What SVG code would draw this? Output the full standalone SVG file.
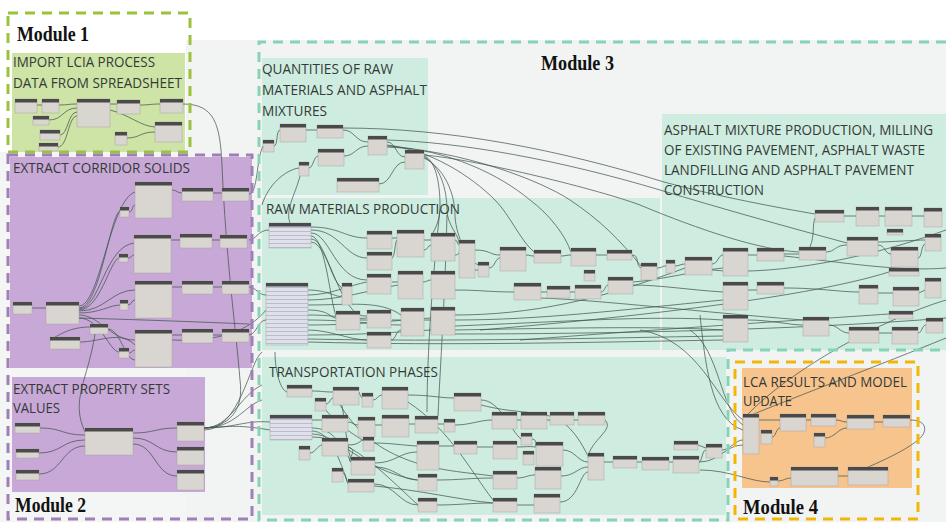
<svg xmlns="http://www.w3.org/2000/svg" width="946" height="522" viewBox="0 0 946 522">
<style>
.c{fill:none;stroke:#3f524c;stroke-width:.9;opacity:.8}
.nb{fill:#d9d6d2;stroke:#a8a5a1;stroke-width:.5}
.nh{fill:#4a4a4a}
.tb{fill:url(#tbl);stroke:#a8a5a1;stroke-width:.5}
.t{font-family:"Open Sans","Noto Sans",sans-serif;font-size:15px;fill:#333a37}
.m{font-family:"Liberation Serif",serif;font-size:21px;font-weight:bold;fill:#111}
.d{fill:none;stroke-width:3;stroke-dasharray:10 7}
</style>
<defs>
<pattern id="tbl" width="6" height="4" patternUnits="userSpaceOnUse"><rect width="6" height="4" fill="#dfe0e8"/><line x1="0" y1="3.5" x2="6" y2="3.5" stroke="#a9aecb" stroke-width=".7"/></pattern>
</defs>
<rect width="946" height="522" fill="#ffffff"/>
<rect x="186" y="40" width="760" height="482" fill="#f2f4f4"/>
<rect x="0" y="152" width="186" height="370" fill="#f4f5f5"/>
<!-- group fills -->
<g id="groups">
<rect x="12" y="53" width="173" height="99" fill="#cee3a6"/>
<rect x="10" y="157" width="242" height="211" fill="#c8a8d6"/>
<rect x="12" y="377" width="193" height="115" fill="#c8a8d6"/>
<rect x="262" y="58" width="166" height="137" fill="#cfece0"/>
<rect x="262" y="198" width="398" height="152" fill="#cfece0"/>
<rect x="662" y="114" width="284" height="236" fill="#cfece0"/>
<rect x="262" y="357" width="464" height="158" fill="#cfece0"/>
<rect x="742" y="368" width="170" height="120" fill="#f8c48e"/>
</g>
<g id="connectors">
<path class="c" d="M37,105 L42,105 M59,105 C68,105 68,104 77,104 M49,120 C63,120 63,108 77,108 M60,135 C68,135 68,112 77,112 M58,147 C68,147 68,116 77,116 M110,104 L117,104 M140,105 C150,105 150,104 160,104 M110,110 C130,115 140,126 155,127 M127,138 C140,138 140,132 155,132"/>
<path class="c" d="M183,104 C215,104 220,125 222,165 C226,260 236,330 240,380 C244,410 230,426 204,428"/>
<path class="c" d="M32,308 L46,308 M79,306 C100,306 110,200 135,192 M79,308 C100,308 110,215 120,211 M79,309 C100,309 105,245 135,243 M79,310 C100,310 110,260 119,258 M79,311 C105,311 112,290 135,290 M79,313 C100,313 110,305 120,305 M79,315 C100,315 110,340 135,340 M79,318 C100,318 110,352 119,352 M129,212 C133,212 132,205 135,205 M128,258 C132,258 131,255 134,255 M128,305 C132,305 131,300 135,300 M129,353 C132,353 132,350 135,350"/>
<path class="c" d="M172,190 C177,190 177,193 182,193 M213,193 L222,193 M171,240 L180,240 M212,240 L220,240 M172,287 L182,287 M213,287 L222,287 M172,335 L182,335 M213,335 L222,335 M80,342 C100,342 120,330 135,345 M108,329 C120,329 125,360 135,360 M90,327 C70,327 60,335 55,337 M95,334 C88,380 70,400 85,432 M79,318 C150,320 200,322 249,324 M172,340 C220,342 250,330 266,310"/>
<path class="c" d="M249,194 C258,194 256,160 263,146 M249,240 C256,240 258,230 269,230 M249,287 C256,287 258,295 266,295 M249,335 C256,335 258,320 266,320"/>
<path class="c" d="M40,428 C62,428 62,435 85,435 M39,453 C62,453 62,440 85,440 M39,474 C62,474 62,446 85,446 M133,433 C155,433 155,428 177,428 M133,438 C155,438 155,452 177,452 M133,444 C155,444 155,476 177,476 M204,428 C230,428 240,395 262,385 M204,428 C235,428 245,405 262,400 M204,428 C235,428 245,420 270,422 M204,428 C232,426 240,425 270,430 M204,430 C240,430 250,360 262,352"/>
<path class="c" d="M274,146 C278,146 276,130 280,130 M306,130 L317,130 M343,130 C355,130 355,142 368,142 M309,168 C313,168 314,156 318,156 M344,156 C355,156 356,146 368,146 M387,142 C396,142 396,157 405,157 M379,184 C392,184 392,162 405,162 M299,168 C285,170 268,185 262,205 M300,176 C295,195 285,210 290,223"/>
<path class="c" d="M343,128 C450,128 560,150 664,182 C720,197 780,208 815,214 M387,140 C460,142 560,160 660,190 C720,208 780,225 847,243 M387,145 C430,150 470,175 495,200 C510,215 520,240 534,252 M387,146 C450,150 500,175 530,200 C550,215 565,235 571,252 M387,147 C460,150 540,180 570,200 C600,220 620,240 641,266 M424,155 C480,160 600,190 640,205 C700,230 760,250 799,252 M424,156 C436,160 440,185 440,205 C440,220 436,228 431,236 M424,157 C440,165 447,190 447,210 C447,225 459,235 459,243 M424,158 C445,168 455,195 455,215 C455,230 465,258 478,265 M447,215 C445,300 440,370 438,416 M440,210 C430,300 427,370 427,412"/>
<path class="c" d="M311,227 C340,227 345,238 367,238 M311,230 C340,230 345,258 367,258 M311,233 C330,233 335,280 367,280 M311,236 C325,236 330,300 336,316 M311,239 C325,239 330,280 342,288 M311,242 C330,242 340,320 367,316 M308,290 C330,290 340,300 342,295 M308,295 C330,295 350,285 367,282 M308,300 C340,300 370,290 398,285 M308,305 C350,305 380,300 401,315 M308,310 C330,310 330,318 336,318 M308,315 C340,315 350,320 367,318 M308,320 C350,320 380,325 401,325 M308,325 C360,325 400,320 431,318 M308,330 C330,330 350,340 367,340 M308,335 C360,335 400,332 431,330 M308,339 C450,342 600,338 723,336 M308,342 C450,346 600,342 723,340"/>
<path class="c" d="M392,238 L397,238 M392,258 C395,258 395,240 397,240 M424,240 L431,240 M424,250 C428,250 428,245 431,245 M455,240 C458,240 457,245 459,245 M455,255 C460,255 460,250 459,250 M475,250 C490,250 490,255 500,255 M475,270 L478,270 M489,268 C495,268 495,258 500,258 M526,255 C530,255 530,256 534,256 M561,256 C566,256 566,255 571,255 M596,255 L607,255 M632,255 C640,255 635,265 641,268 M657,268 C662,268 662,266 666,266 M675,266 C680,266 680,264 685,264 M712,264 C718,264 718,255 723,255 M748,255 L757,255 M784,254 L799,254 M826,252 C835,252 835,245 847,245 M810,247 C815,235 812,225 815,218 M844,216 L856,216 M879,216 L885,216 M912,216 L924,216 M878,245 C885,245 885,254 891,254 M878,242 C890,242 915,240 925,240 M918,258 C922,258 921,245 925,244"/>
<path class="c" d="M392,282 L398,282 M423,282 C427,282 427,280 431,280 M392,320 L401,320 M360,320 L367,320 M391,340 C396,340 396,330 401,330 M424,320 L431,320 M455,315 C530,315 600,300 685,268 M455,320 C540,320 620,310 723,300 M455,326 C560,322 650,315 723,320 M455,330 C560,328 660,326 723,330 M455,334 C600,334 800,330 946,318 M455,290 C480,290 490,292 514,292 M541,292 L547,292 M570,292 L575,292 M601,292 C605,292 605,285 608,285 M633,285 C660,285 690,290 723,292 M633,282 C660,280 700,270 723,268 M748,290 L757,290 M784,288 C820,288 840,292 859,292 M878,293 L893,293 M919,293 L925,290 M748,320 C770,320 790,325 803,325 M829,325 C838,325 840,333 849,333 M879,333 L892,333 M918,333 C922,333 922,325 926,325 M480,330 C600,320 800,300 889,272 M520,340 C650,330 800,320 889,314 M540,298 C600,300 700,312 803,320 M712,270 C760,275 850,265 946,230 M784,256 C840,262 900,272 946,268"/>
<path class="c" d="M744,418 C800,395 880,365 946,338 M946,300 C880,320 790,370 746,416 M640,330 C700,340 715,400 743,420 M690,330 C720,350 720,410 743,425 M700,315 C705,360 710,420 743,430 M699,462 C720,462 725,445 743,445 M722,450 C730,450 735,440 743,440"/>
<path class="c" d="M759,420 L780,420 M772,437 C776,437 776,428 780,428 M806,420 L811,420 M836,420 C841,420 842,422 847,422 M825,438 C835,438 838,428 847,428 M874,422 L883,422 M910,420 C928,420 928,432 918,440 C900,455 860,470 848,476 M778,481 C784,481 785,478 791,478 M838,476 L848,476 M700,470 C730,470 750,482 770,482"/>
<path class="c" d="M275,352 C275,370 280,390 287,392 M312,391 C322,391 323,392 333,392 M326,404 C330,404 330,398 333,398 M359,392 C360,395 361,397 362,398 M373,400 C377,400 378,395 382,395 M408,395 C430,395 440,398 454,398 M312,420 L322,420 M312,428 C330,428 340,440 351,462 M312,431 C330,431 340,460 348,484 M312,434 C340,434 360,470 417,480 M312,437 C350,437 380,470 418,505 M310,453 C315,453 318,445 322,445 M348,422 C353,422 353,425 358,425 M375,425 L382,425 M409,424 L415,424 M438,424 L444,424 M455,425 C470,425 480,420 492,420 M517,420 L521,420 M547,420 L550,420 M574,420 L578,420 M605,420 C615,430 590,440 588,458"/>
<path class="c" d="M348,445 C360,445 360,440 363,440 M374,443 C390,443 400,445 417,446 M348,447 C360,450 345,460 351,462 M375,463 C395,463 400,452 417,452 M375,467 C395,467 400,480 418,480 M343,473 C346,473 346,482 348,482 M374,484 C395,484 400,505 418,505 M374,486 C420,490 460,500 493,503 M339,395 C345,410 345,440 351,460 M322,404 C330,420 360,440 374,446 M437,480 C460,480 470,478 493,478 M437,505 C460,505 470,503 493,503 M439,446 L454,446 M477,447 L493,447 M517,447 C525,447 528,446 536,447 M517,478 C525,478 528,475 535,475 M517,505 L534,505 M563,450 C575,450 578,462 588,462 M561,476 C575,476 578,467 588,467 M560,502 C578,502 580,472 588,472 M604,462 L613,462 M637,462 L642,462 M669,462 L673,462 M699,462 C702,462 702,450 706,450 M698,445 L706,448 M481,400 C500,400 510,430 521,439 M532,439 C538,439 534,446 536,446 M481,405 C540,420 560,400 588,456 M408,402 C450,430 470,470 493,500 M340,405 C380,470 450,470 493,476"/>
</g>
<g id="m1-nodes">
<g id="n1"><rect class="nb" x="15" y="99" width="22" height="14"/><rect class="nh" x="15" y="99" width="22" height="3.5"/></g>
<g id="n2"><rect class="nb" x="42" y="99" width="17" height="14"/><rect class="nh" x="42" y="99" width="17" height="3.5"/></g>
<g id="n3"><rect class="nb" x="77" y="99" width="33" height="28"/><rect class="nh" x="77" y="99" width="33" height="3.5"/></g>
<g id="n4"><rect class="nb" x="117" y="100" width="23" height="14"/><rect class="nh" x="117" y="100" width="23" height="3.5"/></g>
<g id="n5"><rect class="nb" x="160" y="99" width="23" height="14"/><rect class="nh" x="160" y="99" width="23" height="3.5"/></g>
<g id="n6"><rect class="nb" x="33" y="116" width="16" height="9"/><rect class="nh" x="33" y="116" width="16" height="3.5"/></g>
<g id="n7"><rect class="nb" x="40" y="130" width="20" height="10"/><rect class="nh" x="40" y="130" width="20" height="3.5"/></g>
<g id="n8"><rect class="nb" x="39" y="143" width="19" height="8"/><rect class="nh" x="39" y="143" width="19" height="3.5"/></g>
<g id="n9"><rect class="nb" x="115" y="132" width="12" height="13"/><rect class="nh" x="115" y="132" width="12" height="3.5"/></g>
<g id="n10"><rect class="nb" x="155" y="122" width="27" height="20"/><rect class="nh" x="155" y="122" width="27" height="3.5"/></g>
</g>
<g id="m2-nodes">
<g id="n11"><rect class="nb" x="135" y="182" width="37" height="36"/><rect class="nh" x="135" y="182" width="37" height="3.5"/></g>
<g id="n12"><rect class="nb" x="182" y="188" width="31" height="13"/><rect class="nh" x="182" y="188" width="31" height="3.5"/></g>
<g id="n13"><rect class="nb" x="222" y="188" width="27" height="13"/><rect class="nh" x="222" y="188" width="27" height="3.5"/></g>
<g id="n14"><rect class="nb" x="120" y="207" width="9" height="10"/><rect class="nh" x="120" y="207" width="9" height="3.5"/></g>
<g id="n15"><rect class="nb" x="134" y="235" width="37" height="38"/><rect class="nh" x="134" y="235" width="37" height="3.5"/></g>
<g id="n16"><rect class="nb" x="180" y="234" width="32" height="14"/><rect class="nh" x="180" y="234" width="32" height="3.5"/></g>
<g id="n17"><rect class="nb" x="220" y="235" width="27" height="13"/><rect class="nh" x="220" y="235" width="27" height="3.5"/></g>
<g id="n18"><rect class="nb" x="119" y="254" width="9" height="8"/><rect class="nh" x="119" y="254" width="9" height="3.5"/></g>
<g id="n19"><rect class="nb" x="135" y="281" width="37" height="37"/><rect class="nh" x="135" y="281" width="37" height="3.5"/></g>
<g id="n20"><rect class="nb" x="182" y="281" width="31" height="13"/><rect class="nh" x="182" y="281" width="31" height="3.5"/></g>
<g id="n21"><rect class="nb" x="222" y="281" width="27" height="13"/><rect class="nh" x="222" y="281" width="27" height="3.5"/></g>
<g id="n22"><rect class="nb" x="120" y="300" width="8" height="10"/><rect class="nh" x="120" y="300" width="8" height="3.5"/></g>
<g id="n23"><rect class="nb" x="13" y="302" width="19" height="12"/><rect class="nh" x="13" y="302" width="19" height="3.5"/></g>
<g id="n24"><rect class="nb" x="46" y="302" width="33" height="22"/><rect class="nh" x="46" y="302" width="33" height="3.5"/></g>
<g id="n25"><rect class="nb" x="90" y="324" width="18" height="10"/><rect class="nh" x="90" y="324" width="18" height="3.5"/></g>
<g id="n26"><rect class="nb" x="50" y="337" width="30" height="12"/><rect class="nh" x="50" y="337" width="30" height="3.5"/></g>
<g id="n27"><rect class="nb" x="135" y="330" width="37" height="37"/><rect class="nh" x="135" y="330" width="37" height="3.5"/></g>
<g id="n28"><rect class="nb" x="182" y="329" width="31" height="14"/><rect class="nh" x="182" y="329" width="31" height="3.5"/></g>
<g id="n29"><rect class="nb" x="222" y="329" width="27" height="13"/><rect class="nh" x="222" y="329" width="27" height="3.5"/></g>
<g id="n30"><rect class="nb" x="119" y="348" width="10" height="10"/><rect class="nh" x="119" y="348" width="10" height="3.5"/></g>
<g id="n31"><rect class="nb" x="15" y="423" width="25" height="10"/><rect class="nh" x="15" y="423" width="25" height="3.5"/></g>
<g id="n32"><rect class="nb" x="16" y="449" width="23" height="9"/><rect class="nh" x="16" y="449" width="23" height="3.5"/></g>
<g id="n33"><rect class="nb" x="16" y="470" width="23" height="10"/><rect class="nh" x="16" y="470" width="23" height="3.5"/></g>
<g id="n34"><rect class="nb" x="85" y="428" width="48" height="27"/><rect class="nh" x="85" y="428" width="48" height="3.5"/></g>
<g id="n35"><rect class="nb" x="177" y="422" width="27" height="19"/><rect class="nh" x="177" y="422" width="27" height="3.5"/></g>
<g id="n36"><rect class="nb" x="177" y="447" width="27" height="18"/><rect class="nh" x="177" y="447" width="27" height="3.5"/></g>
<g id="n37"><rect class="nb" x="177" y="470" width="27" height="20"/><rect class="nh" x="177" y="470" width="27" height="3.5"/></g>
</g>
<g id="m3-nodes">
<g id="n38"><rect class="nb" x="263" y="140" width="11" height="12"/><rect class="nh" x="263" y="140" width="11" height="3.5"/></g>
<g id="n39"><rect class="nb" x="280" y="124" width="26" height="18"/><rect class="nh" x="280" y="124" width="26" height="3.5"/></g>
<g id="n40"><rect class="nb" x="317" y="125" width="26" height="13"/><rect class="nh" x="317" y="125" width="26" height="3.5"/></g>
<g id="n41"><rect class="nb" x="368" y="136" width="19" height="19"/><rect class="nh" x="368" y="136" width="19" height="3.5"/></g>
<g id="n42"><rect class="nb" x="318" y="149" width="26" height="17"/><rect class="nh" x="318" y="149" width="26" height="3.5"/></g>
<g id="n43"><rect class="nb" x="299" y="162" width="10" height="14"/><rect class="nh" x="299" y="162" width="10" height="3.5"/></g>
<g id="n44"><rect class="nb" x="405" y="150" width="19" height="19"/><rect class="nh" x="405" y="150" width="19" height="3.5"/></g>
<g id="n45"><rect class="nb" x="337" y="178" width="42" height="14"/><rect class="nh" x="337" y="178" width="42" height="3.5"/></g>
<g id="n46"><rect class="tb" x="269" y="223" width="42" height="25"/><rect class="nh" x="269" y="223" width="42" height="3.5"/></g>
<g id="n47"><rect class="tb" x="266" y="283" width="42" height="62"/><rect class="nh" x="266" y="283" width="42" height="3.5"/></g>
<g id="n48"><rect class="nb" x="367" y="231" width="25" height="18"/><rect class="nh" x="367" y="231" width="25" height="3.5"/></g>
<g id="n49"><rect class="nb" x="397" y="230" width="27" height="27"/><rect class="nh" x="397" y="230" width="27" height="3.5"/></g>
<g id="n50"><rect class="nb" x="431" y="233" width="24" height="28"/><rect class="nh" x="431" y="233" width="24" height="3.5"/></g>
<g id="n51"><rect class="nb" x="459" y="240" width="16" height="38"/><rect class="nh" x="459" y="240" width="16" height="3.5"/></g>
<g id="n52"><rect class="nb" x="478" y="262" width="11" height="15"/><rect class="nh" x="478" y="262" width="11" height="3.5"/></g>
<g id="n53"><rect class="nb" x="367" y="252" width="25" height="18"/><rect class="nh" x="367" y="252" width="25" height="3.5"/></g>
<g id="n54"><rect class="nb" x="367" y="274" width="24" height="20"/><rect class="nh" x="367" y="274" width="24" height="3.5"/></g>
<g id="n55"><rect class="nb" x="398" y="271" width="25" height="28"/><rect class="nh" x="398" y="271" width="25" height="3.5"/></g>
<g id="n56"><rect class="nb" x="431" y="271" width="24" height="28"/><rect class="nh" x="431" y="271" width="24" height="3.5"/></g>
<g id="n57"><rect class="nb" x="342" y="283" width="10" height="22"/><rect class="nh" x="342" y="283" width="10" height="3.5"/></g>
<g id="n58"><rect class="nb" x="336" y="311" width="24" height="19"/><rect class="nh" x="336" y="311" width="24" height="3.5"/></g>
<g id="n59"><rect class="nb" x="367" y="310" width="24" height="18"/><rect class="nh" x="367" y="310" width="24" height="3.5"/></g>
<g id="n60"><rect class="nb" x="367" y="332" width="24" height="16"/><rect class="nh" x="367" y="332" width="24" height="3.5"/></g>
<g id="n61"><rect class="nb" x="401" y="308" width="23" height="28"/><rect class="nh" x="401" y="308" width="23" height="3.5"/></g>
<g id="n62"><rect class="nb" x="431" y="307" width="24" height="28"/><rect class="nh" x="431" y="307" width="24" height="3.5"/></g>
<g id="n63"><rect class="nb" x="500" y="247" width="26" height="24"/><rect class="nh" x="500" y="247" width="26" height="3.5"/></g>
<g id="n64"><rect class="nb" x="534" y="250" width="27" height="13"/><rect class="nh" x="534" y="250" width="27" height="3.5"/></g>
<g id="n65"><rect class="nb" x="571" y="248" width="25" height="18"/><rect class="nh" x="571" y="248" width="25" height="3.5"/></g>
<g id="n66"><rect class="nb" x="607" y="250" width="25" height="10"/><rect class="nh" x="607" y="250" width="25" height="3.5"/></g>
<g id="n67"><rect class="nb" x="641" y="263" width="16" height="17"/><rect class="nh" x="641" y="263" width="16" height="3.5"/></g>
<g id="n68"><rect class="nb" x="514" y="283" width="27" height="17"/><rect class="nh" x="514" y="283" width="27" height="3.5"/></g>
<g id="n69"><rect class="nb" x="547" y="286" width="23" height="12"/><rect class="nh" x="547" y="286" width="23" height="3.5"/></g>
<g id="n70"><rect class="nb" x="575" y="285" width="26" height="14"/><rect class="nh" x="575" y="285" width="26" height="3.5"/></g>
<g id="n71"><rect class="nb" x="584" y="270" width="11" height="11"/><rect class="nh" x="584" y="270" width="11" height="3.5"/></g>
<g id="n72"><rect class="nb" x="608" y="277" width="25" height="17"/><rect class="nh" x="608" y="277" width="25" height="3.5"/></g>
<g id="n73"><rect class="nb" x="666" y="260" width="9" height="13"/><rect class="nh" x="666" y="260" width="9" height="3.5"/></g>
<g id="n74"><rect class="nb" x="685" y="257" width="27" height="18"/><rect class="nh" x="685" y="257" width="27" height="3.5"/></g>
<g id="n75"><rect class="nb" x="723" y="248" width="25" height="28"/><rect class="nh" x="723" y="248" width="25" height="3.5"/></g>
<g id="n76"><rect class="nb" x="757" y="248" width="27" height="13"/><rect class="nh" x="757" y="248" width="27" height="3.5"/></g>
<g id="n77"><rect class="nb" x="799" y="247" width="27" height="13"/><rect class="nh" x="799" y="247" width="27" height="3.5"/></g>
<g id="n78"><rect class="nb" x="815" y="210" width="29" height="12"/><rect class="nh" x="815" y="210" width="29" height="3.5"/></g>
<g id="n79"><rect class="nb" x="856" y="207" width="23" height="19"/><rect class="nh" x="856" y="207" width="23" height="3.5"/></g>
<g id="n80"><rect class="nb" x="885" y="207" width="27" height="19"/><rect class="nh" x="885" y="207" width="27" height="3.5"/></g>
<g id="n81"><rect class="nb" x="924" y="208" width="18" height="19"/><rect class="nh" x="924" y="208" width="18" height="3.5"/></g>
<g id="n82"><rect class="nb" x="887" y="229" width="16" height="6"/><rect class="nh" x="887" y="229" width="16" height="3.5"/></g>
<g id="n83"><rect class="nb" x="847" y="237" width="31" height="19"/><rect class="nh" x="847" y="237" width="31" height="3.5"/></g>
<g id="n84"><rect class="nb" x="925" y="234" width="16" height="17"/><rect class="nh" x="925" y="234" width="16" height="3.5"/></g>
<g id="n85"><rect class="nb" x="891" y="247" width="27" height="20"/><rect class="nh" x="891" y="247" width="27" height="3.5"/></g>
<g id="n86"><rect class="nb" x="889" y="268" width="30" height="8"/><rect class="nh" x="889" y="268" width="30" height="3.5"/></g>
<g id="n87"><rect class="nb" x="723" y="282" width="25" height="28"/><rect class="nh" x="723" y="282" width="25" height="3.5"/></g>
<g id="n88"><rect class="nb" x="757" y="282" width="27" height="12"/><rect class="nh" x="757" y="282" width="27" height="3.5"/></g>
<g id="n89"><rect class="nb" x="859" y="285" width="19" height="19"/><rect class="nh" x="859" y="285" width="19" height="3.5"/></g>
<g id="n90"><rect class="nb" x="893" y="287" width="26" height="19"/><rect class="nh" x="893" y="287" width="26" height="3.5"/></g>
<g id="n91"><rect class="nb" x="925" y="278" width="16" height="20"/><rect class="nh" x="925" y="278" width="16" height="3.5"/></g>
<g id="n92"><rect class="nb" x="889" y="311" width="24" height="8"/><rect class="nh" x="889" y="311" width="24" height="3.5"/></g>
<g id="n93"><rect class="nb" x="723" y="315" width="25" height="27"/><rect class="nh" x="723" y="315" width="25" height="3.5"/></g>
<g id="n94"><rect class="nb" x="803" y="317" width="26" height="19"/><rect class="nh" x="803" y="317" width="26" height="3.5"/></g>
<g id="n95"><rect class="nb" x="849" y="327" width="30" height="16"/><rect class="nh" x="849" y="327" width="30" height="3.5"/></g>
<g id="n96"><rect class="nb" x="892" y="327" width="26" height="17"/><rect class="nh" x="892" y="327" width="26" height="3.5"/></g>
<g id="n97"><rect class="nb" x="926" y="318" width="17" height="15"/><rect class="nh" x="926" y="318" width="17" height="3.5"/></g>
<g id="n98"><rect class="nb" x="287" y="385" width="25" height="12"/><rect class="nh" x="287" y="385" width="25" height="3.5"/></g>
<g id="n99"><rect class="nb" x="315" y="398" width="11" height="13"/><rect class="nh" x="315" y="398" width="11" height="3.5"/></g>
<g id="n100"><rect class="nb" x="333" y="387" width="26" height="18"/><rect class="nh" x="333" y="387" width="26" height="3.5"/></g>
<g id="n101"><rect class="nb" x="362" y="393" width="11" height="14"/><rect class="nh" x="362" y="393" width="11" height="3.5"/></g>
<g id="n102"><rect class="nb" x="382" y="387" width="26" height="22"/><rect class="nh" x="382" y="387" width="26" height="3.5"/></g>
<g id="n103"><rect class="nb" x="454" y="393" width="27" height="18"/><rect class="nh" x="454" y="393" width="27" height="3.5"/></g>
<g id="n104"><rect class="tb" x="270" y="415" width="42" height="25"/><rect class="nh" x="270" y="415" width="42" height="3.5"/></g>
<g id="n105"><rect class="nb" x="322" y="415" width="26" height="17"/><rect class="nh" x="322" y="415" width="26" height="3.5"/></g>
<g id="n106"><rect class="nb" x="358" y="417" width="17" height="20"/><rect class="nh" x="358" y="417" width="17" height="3.5"/></g>
<g id="n107"><rect class="nb" x="382" y="415" width="27" height="22"/><rect class="nh" x="382" y="415" width="27" height="3.5"/></g>
<g id="n108"><rect class="nb" x="415" y="416" width="23" height="17"/><rect class="nh" x="415" y="416" width="23" height="3.5"/></g>
<g id="n109"><rect class="nb" x="444" y="419" width="11" height="13"/><rect class="nh" x="444" y="419" width="11" height="3.5"/></g>
<g id="n110"><rect class="nb" x="492" y="412" width="25" height="17"/><rect class="nh" x="492" y="412" width="25" height="3.5"/></g>
<g id="n111"><rect class="nb" x="521" y="412" width="26" height="17"/><rect class="nh" x="521" y="412" width="26" height="3.5"/></g>
<g id="n112"><rect class="nb" x="550" y="412" width="24" height="13"/><rect class="nh" x="550" y="412" width="24" height="3.5"/></g>
<g id="n113"><rect class="nb" x="578" y="412" width="27" height="13"/><rect class="nh" x="578" y="412" width="27" height="3.5"/></g>
<g id="n114"><rect class="nb" x="299" y="446" width="11" height="14"/><rect class="nh" x="299" y="446" width="11" height="3.5"/></g>
<g id="n115"><rect class="nb" x="322" y="438" width="26" height="18"/><rect class="nh" x="322" y="438" width="26" height="3.5"/></g>
<g id="n116"><rect class="nb" x="363" y="437" width="11" height="14"/><rect class="nh" x="363" y="437" width="11" height="3.5"/></g>
<g id="n117"><rect class="nb" x="351" y="457" width="24" height="18"/><rect class="nh" x="351" y="457" width="24" height="3.5"/></g>
<g id="n118"><rect class="nb" x="332" y="468" width="11" height="14"/><rect class="nh" x="332" y="468" width="11" height="3.5"/></g>
<g id="n119"><rect class="nb" x="348" y="479" width="26" height="13"/><rect class="nh" x="348" y="479" width="26" height="3.5"/></g>
<g id="n120"><rect class="nb" x="417" y="441" width="22" height="29"/><rect class="nh" x="417" y="441" width="22" height="3.5"/></g>
<g id="n121"><rect class="nb" x="454" y="441" width="23" height="13"/><rect class="nh" x="454" y="441" width="23" height="3.5"/></g>
<g id="n122"><rect class="nb" x="493" y="441" width="24" height="18"/><rect class="nh" x="493" y="441" width="24" height="3.5"/></g>
<g id="n123"><rect class="nb" x="521" y="433" width="11" height="12"/><rect class="nh" x="521" y="433" width="11" height="3.5"/></g>
<g id="n124"><rect class="nb" x="523" y="451" width="11" height="14"/><rect class="nh" x="523" y="451" width="11" height="3.5"/></g>
<g id="n125"><rect class="nb" x="536" y="442" width="27" height="24"/><rect class="nh" x="536" y="442" width="27" height="3.5"/></g>
<g id="n126"><rect class="nb" x="418" y="474" width="19" height="17"/><rect class="nh" x="418" y="474" width="19" height="3.5"/></g>
<g id="n127"><rect class="nb" x="493" y="471" width="24" height="18"/><rect class="nh" x="493" y="471" width="24" height="3.5"/></g>
<g id="n128"><rect class="nb" x="535" y="467" width="26" height="22"/><rect class="nh" x="535" y="467" width="26" height="3.5"/></g>
<g id="n129"><rect class="nb" x="588" y="453" width="16" height="27"/><rect class="nh" x="588" y="453" width="16" height="3.5"/></g>
<g id="n130"><rect class="nb" x="613" y="456" width="24" height="12"/><rect class="nh" x="613" y="456" width="24" height="3.5"/></g>
<g id="n131"><rect class="nb" x="642" y="457" width="27" height="13"/><rect class="nh" x="642" y="457" width="27" height="3.5"/></g>
<g id="n132"><rect class="nb" x="673" y="456" width="26" height="17"/><rect class="nh" x="673" y="456" width="26" height="3.5"/></g>
<g id="n133"><rect class="nb" x="674" y="441" width="24" height="9"/><rect class="nh" x="674" y="441" width="24" height="3.5"/></g>
<g id="n134"><rect class="nb" x="706" y="444" width="16" height="14"/><rect class="nh" x="706" y="444" width="16" height="3.5"/></g>
<g id="n135"><rect class="nb" x="418" y="498" width="19" height="14"/><rect class="nh" x="418" y="498" width="19" height="3.5"/></g>
<g id="n136"><rect class="nb" x="493" y="498" width="24" height="14"/><rect class="nh" x="493" y="498" width="24" height="3.5"/></g>
<g id="n137"><rect class="nb" x="534" y="494" width="26" height="19"/><rect class="nh" x="534" y="494" width="26" height="3.5"/></g>
</g>
<g id="m4-nodes">
<g id="n138"><rect class="nb" x="743" y="414" width="16" height="40"/><rect class="nh" x="743" y="414" width="16" height="3.5"/></g>
<g id="n139"><rect class="nb" x="761" y="430" width="11" height="14"/><rect class="nh" x="761" y="430" width="11" height="3.5"/></g>
<g id="n140"><rect class="nb" x="780" y="414" width="26" height="17"/><rect class="nh" x="780" y="414" width="26" height="3.5"/></g>
<g id="n141"><rect class="nb" x="811" y="414" width="25" height="12"/><rect class="nh" x="811" y="414" width="25" height="3.5"/></g>
<g id="n142"><rect class="nb" x="814" y="433" width="11" height="14"/><rect class="nh" x="814" y="433" width="11" height="3.5"/></g>
<g id="n143"><rect class="nb" x="847" y="415" width="27" height="14"/><rect class="nh" x="847" y="415" width="27" height="3.5"/></g>
<g id="n144"><rect class="nb" x="883" y="415" width="27" height="12"/><rect class="nh" x="883" y="415" width="27" height="3.5"/></g>
<g id="n145"><rect class="nb" x="770" y="477" width="8" height="9"/><rect class="nh" x="770" y="477" width="8" height="3.5"/></g>
<g id="n146"><rect class="nb" x="791" y="467" width="47" height="19"/><rect class="nh" x="791" y="467" width="47" height="3.5"/></g>
<g id="n147"><rect class="nb" x="848" y="467" width="40" height="18"/><rect class="nh" x="848" y="467" width="40" height="3.5"/></g>
</g>
<g id="modules">
<rect class="d" x="8" y="13" width="182" height="139" stroke="#9cc23c"/>
<rect class="d" x="8" y="155" width="244" height="364" stroke="#a07fb8"/>
<path class="d" d="M946,42 H259 V520 H728 V350 H946" stroke="#86d3b6"/>
<rect class="d" x="735" y="362" width="183" height="157" stroke="#f2b705"/>
</g>
<g id="labels">
<text class="m" x="17" y="41" textLength="72" lengthAdjust="spacingAndGlyphs">Module 1</text>
<text class="m" x="15" y="512" textLength="71" lengthAdjust="spacingAndGlyphs">Module 2</text>
<text class="m" x="541" y="70" textLength="73" lengthAdjust="spacingAndGlyphs">Module 3</text>
<text class="m" x="743" y="514" textLength="75" lengthAdjust="spacingAndGlyphs">Module 4</text>
<text class="t" x="13" y="67" textLength="142" lengthAdjust="spacingAndGlyphs">IMPORT LCIA PROCESS</text>
<text class="t" x="13" y="88" textLength="169" lengthAdjust="spacingAndGlyphs">DATA FROM SPREADSHEET</text>
<text class="t" x="13" y="173" textLength="177" lengthAdjust="spacingAndGlyphs">EXTRACT CORRIDOR SOLIDS</text>
<text class="t" x="13" y="394" textLength="157" lengthAdjust="spacingAndGlyphs">EXTRACT PROPERTY SETS</text>
<text class="t" x="13" y="413" textLength="47" lengthAdjust="spacingAndGlyphs">VALUES</text>
<text class="t" x="262" y="74" textLength="131" lengthAdjust="spacingAndGlyphs">QUANTITIES OF RAW</text>
<text class="t" x="262" y="95" textLength="165" lengthAdjust="spacingAndGlyphs">MATERIALS AND ASPHALT</text>
<text class="t" x="262" y="116" textLength="65" lengthAdjust="spacingAndGlyphs">MIXTURES</text>
<text class="t" x="266" y="214" textLength="194" lengthAdjust="spacingAndGlyphs">RAW MATERIALS PRODUCTION</text>
<g transform="scale(0.85,1)">
<text class="t" x="781.2" y="135" textLength="316.5" lengthAdjust="spacingAndGlyphs">ASPHALT MIXTURE PRODUCTION, MILLING</text>
<text class="t" x="781.2" y="155" textLength="307" lengthAdjust="spacingAndGlyphs">OF EXISTING PAVEMENT, ASPHALT WASTE</text>
<text class="t" x="781.2" y="175" textLength="294" lengthAdjust="spacingAndGlyphs">LANDFILLING AND ASPHALT PAVEMENT</text>
<text class="t" x="781.2" y="195" textLength="117.6" lengthAdjust="spacingAndGlyphs">CONSTRUCTION</text>
</g>
<text class="t" x="269" y="377" textLength="169" lengthAdjust="spacingAndGlyphs">TRANSPORTATION PHASES</text>
<text class="t" x="743" y="387" style="font-size:14px" textLength="164" lengthAdjust="spacingAndGlyphs">LCA RESULTS AND MODEL</text>
<text class="t" x="743" y="406" style="font-size:14px" textLength="49" lengthAdjust="spacingAndGlyphs">UPDATE</text>
</g>
</svg>
